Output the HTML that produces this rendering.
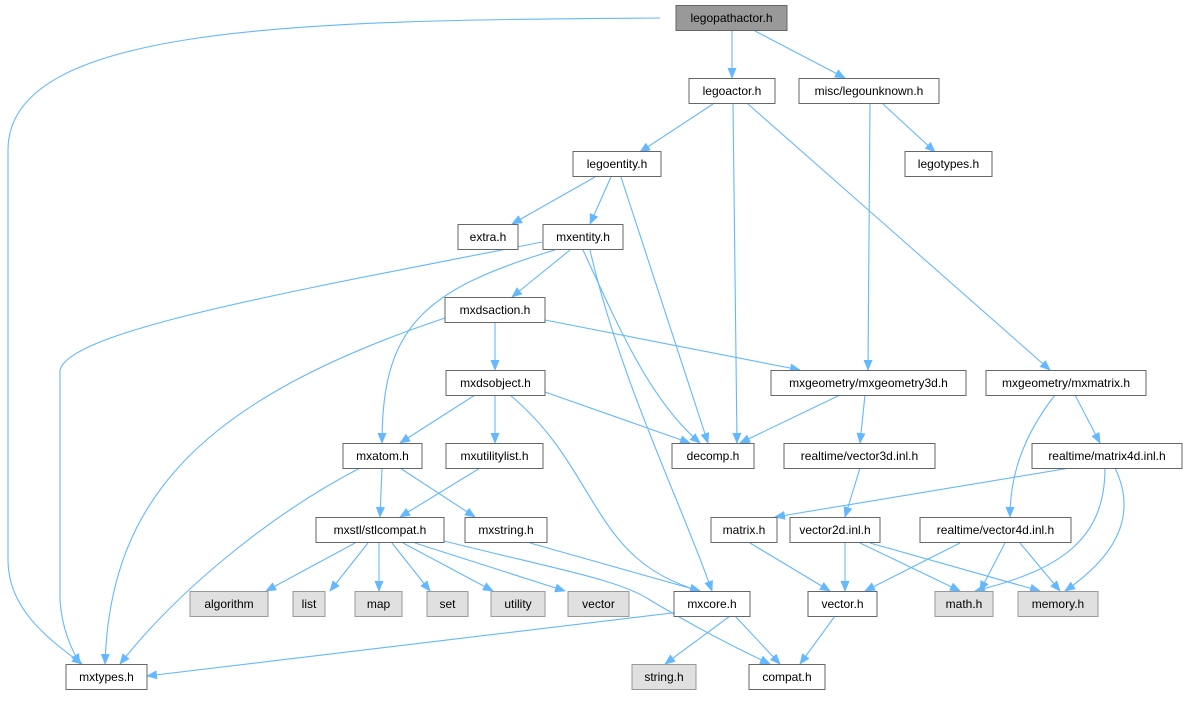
<!DOCTYPE html>
<html><head><meta charset="utf-8"><style>
body{margin:0;background:#fff}
svg text{font-family:"Liberation Sans",Arial,sans-serif;font-size:12px;text-anchor:middle}
.n rect{fill:#fff;stroke:#666;stroke-width:1}
.g rect{fill:#e0e0e0;stroke:#999}
.r rect{fill:#999;stroke:#666}
.e path{fill:none;stroke:#63b8ff;stroke-width:1.1}
</style></head><body>
<svg width="1185" height="696" viewBox="0 0 1185 696">
<defs><marker id="a" markerWidth="11" markerHeight="9" refX="10" refY="4.5" orient="auto" markerUnits="userSpaceOnUse"><path d="M0,0 L11,4.5 L0,9 z" fill="#63b8ff"/></marker></defs>
<g class="e" marker-end="url(#a)">
<path d="M660,18 C300,20 8,25 8,150 L8,560 C8,610 50,640 82,664" marker-end="url(#a)"/>
<path d="M732,31 L732,78" marker-end="url(#a)"/>
<path d="M755,31 L845,78" marker-end="url(#a)"/>
<path d="M713,104 L640,152" marker-end="url(#a)"/>
<path d="M733,104 L737,443" marker-end="url(#a)"/>
<path d="M748,104 L1050,370" marker-end="url(#a)"/>
<path d="M870,104 L868,370" marker-end="url(#a)"/>
<path d="M883,104 L935,152" marker-end="url(#a)"/>
<path d="M595,177 L512,224" marker-end="url(#a)"/>
<path d="M611,177 L590,224" marker-end="url(#a)"/>
<path d="M621,177 L708,443" marker-end="url(#a)"/>
<path d="M542,242 C300,290 70,330 60,370 L60,600 C62,630 72,650 80,664" marker-end="url(#a)"/>
<path d="M570,250 L512,297" marker-end="url(#a)"/>
<path d="M555,250 C420,290 382,330 382,443" marker-end="url(#a)"/>
<path d="M583,250 C620,330 650,400 700,443" marker-end="url(#a)"/>
<path d="M590,250 C620,380 680,500 712,591" marker-end="url(#a)"/>
<path d="M445,318 C200,400 110,500 105,664" marker-end="url(#a)"/>
<path d="M495,322 L495,370" marker-end="url(#a)"/>
<path d="M545,320 L800,370" marker-end="url(#a)"/>
<path d="M475,395 L400,443" marker-end="url(#a)"/>
<path d="M495,395 L495,443" marker-end="url(#a)"/>
<path d="M545,392 L690,443" marker-end="url(#a)"/>
<path d="M510,395 C600,470 590,560 700,591" marker-end="url(#a)"/>
<path d="M840,395 L740,443" marker-end="url(#a)"/>
<path d="M865,395 L860,443" marker-end="url(#a)"/>
<path d="M1055,395 C1020,440 1010,480 1010,517" marker-end="url(#a)"/>
<path d="M1075,395 L1100,443" marker-end="url(#a)"/>
<path d="M360,468 C260,520 170,600 120,664" marker-end="url(#a)"/>
<path d="M382,468 L380,517" marker-end="url(#a)"/>
<path d="M400,468 L475,517" marker-end="url(#a)"/>
<path d="M480,468 L400,517" marker-end="url(#a)"/>
<path d="M860,468 L845,517" marker-end="url(#a)"/>
<path d="M1070,468 L775,517" marker-end="url(#a)"/>
<path d="M1105,468 C1105,540 1060,570 975,591" marker-end="url(#a)"/>
<path d="M1115,468 C1140,520 1110,560 1065,591" marker-end="url(#a)"/>
<path d="M355,543 L266,591" marker-end="url(#a)"/>
<path d="M368,543 L330,591" marker-end="url(#a)"/>
<path d="M379,543 L379,591" marker-end="url(#a)"/>
<path d="M392,543 L430,591" marker-end="url(#a)"/>
<path d="M403,543 L493,591" marker-end="url(#a)"/>
<path d="M415,543 L565,591" marker-end="url(#a)"/>
<path d="M440,540 C560,570 620,580 650,600 C700,630 740,650 770,664" marker-end="url(#a)"/>
<path d="M530,543 L700,591" marker-end="url(#a)"/>
<path d="M750,543 L830,591" marker-end="url(#a)"/>
<path d="M845,543 L845,591" marker-end="url(#a)"/>
<path d="M860,543 L960,591" marker-end="url(#a)"/>
<path d="M870,543 L1040,591" marker-end="url(#a)"/>
<path d="M960,543 L865,591" marker-end="url(#a)"/>
<path d="M1005,543 L980,591" marker-end="url(#a)"/>
<path d="M1020,543 L1060,591" marker-end="url(#a)"/>
<path d="M680,612 L147,676" marker-end="url(#a)"/>
<path d="M730,616 L665,664" marker-end="url(#a)"/>
<path d="M735,616 L780,664" marker-end="url(#a)"/>
<path d="M835,616 L800,664" marker-end="url(#a)"/>
</g>
<g class="n r"><rect x="676" y="5.5" width="111" height="25"/><text x="731.5" y="22">legopathactor.h</text></g>
<g class="n"><rect x="689" y="78.5" width="86" height="25"/><text x="732" y="95">legoactor.h</text></g>
<g class="n"><rect x="799" y="78.5" width="140" height="25"/><text x="869" y="95">misc/legounknown.h</text></g>
<g class="n"><rect x="573" y="151.5" width="88" height="25"/><text x="617" y="168">legoentity.h</text></g>
<g class="n"><rect x="905" y="151.5" width="87" height="25"/><text x="948.5" y="168">legotypes.h</text></g>
<g class="n"><rect x="458" y="224.5" width="60" height="25"/><text x="488" y="241">extra.h</text></g>
<g class="n"><rect x="543" y="224.5" width="80" height="25"/><text x="583" y="241">mxentity.h</text></g>
<g class="n"><rect x="445" y="297.5" width="100" height="25"/><text x="495" y="314">mxdsaction.h</text></g>
<g class="n"><rect x="771" y="370.5" width="195" height="25"/><text x="868.5" y="387">mxgeometry/mxgeometry3d.h</text></g>
<g class="n"><rect x="986" y="370.5" width="160" height="25"/><text x="1066" y="387">mxgeometry/mxmatrix.h</text></g>
<g class="n"><rect x="446" y="370.5" width="99" height="25"/><text x="495.5" y="387">mxdsobject.h</text></g>
<g class="n"><rect x="343" y="443.5" width="79" height="25"/><text x="382.5" y="460">mxatom.h</text></g>
<g class="n"><rect x="446" y="443.5" width="97" height="25"/><text x="494.5" y="460">mxutilitylist.h</text></g>
<g class="n"><rect x="672" y="443.5" width="82" height="25"/><text x="713" y="460">decomp.h</text></g>
<g class="n"><rect x="784" y="443.5" width="151" height="25"/><text x="859.5" y="460">realtime/vector3d.inl.h</text></g>
<g class="n"><rect x="1032" y="443.5" width="150" height="25"/><text x="1107" y="460">realtime/matrix4d.inl.h</text></g>
<g class="n"><rect x="316" y="517.5" width="128" height="25"/><text x="380" y="534">mxstl/stlcompat.h</text></g>
<g class="n"><rect x="465" y="517.5" width="82" height="25"/><text x="506" y="534">mxstring.h</text></g>
<g class="n"><rect x="711" y="517.5" width="66" height="25"/><text x="744" y="534">matrix.h</text></g>
<g class="n"><rect x="790" y="517.5" width="90" height="25"/><text x="835" y="534">vector2d.inl.h</text></g>
<g class="n"><rect x="920" y="517.5" width="151" height="25"/><text x="995.5" y="534">realtime/vector4d.inl.h</text></g>
<g class="n g"><rect x="190" y="591.5" width="78" height="25"/><text x="229" y="608">algorithm</text></g>
<g class="n g"><rect x="293" y="591.5" width="32" height="25"/><text x="309" y="608">list</text></g>
<g class="n g"><rect x="355" y="591.5" width="47" height="25"/><text x="378.5" y="608">map</text></g>
<g class="n g"><rect x="427" y="591.5" width="41" height="25"/><text x="447.5" y="608">set</text></g>
<g class="n g"><rect x="491" y="591.5" width="54" height="25"/><text x="518" y="608">utility</text></g>
<g class="n g"><rect x="568" y="591.5" width="61" height="25"/><text x="598.5" y="608">vector</text></g>
<g class="n"><rect x="674" y="591.5" width="76" height="25"/><text x="712" y="608">mxcore.h</text></g>
<g class="n"><rect x="808" y="591.5" width="69" height="25"/><text x="842.5" y="608">vector.h</text></g>
<g class="n g"><rect x="935" y="591.5" width="58" height="25"/><text x="964" y="608">math.h</text></g>
<g class="n g"><rect x="1018" y="591.5" width="80" height="25"/><text x="1058" y="608">memory.h</text></g>
<g class="n"><rect x="66" y="664.5" width="81" height="25"/><text x="106.5" y="681">mxtypes.h</text></g>
<g class="n g"><rect x="632" y="664.5" width="64" height="25"/><text x="664" y="681">string.h</text></g>
<g class="n"><rect x="749" y="664.5" width="76" height="25"/><text x="787" y="681">compat.h</text></g>
</svg>
</body></html>
